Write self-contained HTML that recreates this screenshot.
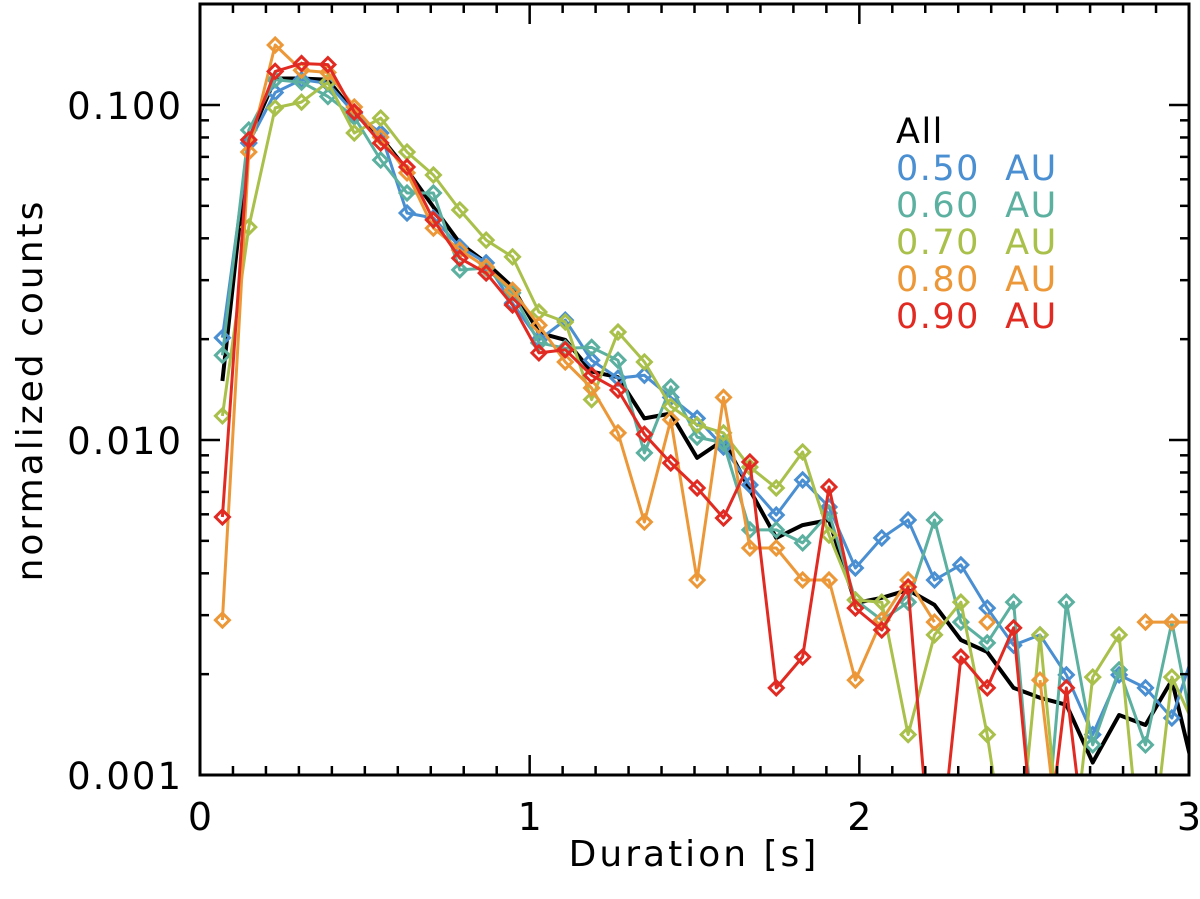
<!DOCTYPE html>
<html><head><meta charset="utf-8"><style>
body{margin:0;background:#fff;}
svg{display:block;font-family:"DejaVu Sans","Liberation Sans",sans-serif;}
</style></head><body>
<svg id="chart" width="1200" height="899" viewBox="0 0 1200 899"></svg>
<script>
const durations=[0.068,0.148,0.228,0.308,0.388,0.468,0.548,0.628,0.708,0.788,0.868,0.948,1.028,1.108,1.188,1.268,1.348,1.428,1.508,1.588,1.668,1.748,1.828,1.908,1.988,2.068,2.148,2.228,2.308,2.388,2.468,2.548,2.628,2.708,2.788,2.868,2.948,3.028];
const allCounts=[0.0150,0.0787,0.120,0.120,0.119,0.0946,0.0802,0.064,0.0496,0.0387,0.0338,0.0286,0.0209,0.0199,0.0160,0.0154,0.0116,0.0120,0.00884,0.0100,0.00709,0.0051,0.00557,0.00577,0.00326,0.00338,0.00357,0.00322,0.00253,0.00233,0.00182,0.00170,0.00162,0.00109,0.00151,0.00141,0.00192,0.00090];
const au050=[0.0202,0.0770,0.109,0.119,0.116,0.0946,0.0825,0.0476,0.0460,0.0377,0.0338,0.0256,0.0199,0.0228,0.0173,0.0153,0.0156,0.0134,0.0116,0.00953,0.00734,0.00597,0.00760,0.00631,0.00415,0.00510,0.00577,0.00382,0.00424,0.00315,0.00244,0.00262,0.00199,0.00132,0.00199,0.00182,0.00148,0.00256];
const au060=[0.0179,0.0842,0.119,0.117,0.106,0.0921,0.0685,0.0546,0.0546,0.0322,0.0326,0.0275,0.0195,0.0188,0.0189,0.0173,0.00915,0.0144,0.0102,0.00980,0.00539,0.00539,0.00493,0.00605,0.00333,0.00290,0.00328,0.00577,0.00286,0.00248,0.00328,0.0004,0.00328,0.00123,0.00206,0.00123,0.00286,0.00113];
const au070=[0.0118,0.0432,0.0980,0.102,0.117,0.0825,0.0914,0.0724,0.0618,0.0486,0.0395,0.0352,0.0241,0.0225,0.0132,0.0210,0.0171,0.0126,0.0111,0.0105,0.00830,0.00719,0.00921,0.00520,0.00333,0.00328,0.00132,0.00262,0.00328,0.00132,0.0004,0.00262,0.0004,0.00196,0.00262,0.0004,0.00196,0.00133];
const au080=[0.00290,0.0724,0.151,0.127,0.125,0.0986,0.0802,0.0627,0.0429,0.0369,0.0328,0.0280,0.0220,0.0171,0.0143,0.0105,0.00569,0.0115,0.00382,0.0134,0.00476,0.00476,0.00382,0.00382,0.00192,0.00290,0.00382,0.00286,null,0.00286,null,0.00192,0.0004,null,null,0.00286,0.00286,0.00286];
const au090=[0.00589,0.0787,0.126,0.133,0.132,0.0953,0.0770,0.0653,0.0454,0.0349,0.0315,0.0253,0.0182,0.0186,0.0156,0.0141,0.0104,0.00854,0.00719,0.00585,0.00860,0.00182,0.00225,0.00724,0.00315,0.00271,0.00364,0.0004,0.00225,0.00182,0.00275,0.0004,0.00182,0.0004,null,null,null,null];
const legendLabels=["All","0.50  AU","0.60  AU","0.70  AU","0.80  AU","0.90  AU"];
const xTicks=[0,1,2,3];
const yTicks=[0.001,0.010,0.100];
const yTickLabels=["0.001","0.010","0.100"];

const L=200,R=1189,T=4,B=775;
const X=v=>L+(v)*(R-L)/3;
const Y=v=>B-335*Math.log10(v/0.001);
const svg=document.getElementById('chart');
const NS='http://www.w3.org/2000/svg';
function mk(tag,attrs,parent){const e=document.createElementNS(NS,tag);for(const k in attrs)e.setAttribute(k,attrs[k]);(parent||svg).appendChild(e);return e;}

const defs=mk('defs',{});
const cp=mk('clipPath',{id:'plotclip'},defs);
mk('rect',{x:L,y:T,width:R-L,height:B-T},cp);

const plot=mk('g',{'clip-path':'url(#plotclip)'});



function drawSeries(vals,color,name,markers,width){
  const g=mk('g',{},plot);
  
  
  let d='';let pen=false;
  vals.forEach((v,i)=>{
    if(v===null||v===undefined){pen=false;return;}
    d+=(pen?'L':'M')+X(durations[i]).toFixed(1)+' '+Y(v).toFixed(1)+' ';pen=true;
  });
  const p=mk('path',{d:d,fill:'none',stroke:color,'stroke-width':width,'stroke-linejoin':'round'},g);
  
  
  if(markers){
    vals.forEach((v,i)=>{
      if(v===null||v===undefined)return;
      const cx=X(durations[i]),cy=Y(v),s=7;
      const m=mk('path',{d:`M${cx-s} ${cy}L${cx} ${cy-s}L${cx+s} ${cy}L${cx} ${cy+s}Z`,fill:'none',stroke:color,'stroke-width':3},g);
      
      
    });
  }
}
drawSeries(allCounts,'#000','series-all',false,4);
drawSeries(au050,'#4a8fd2','series-050au',true,3);
drawSeries(au060,'#5cb0a0','series-060au',true,3);
drawSeries(au070,'#a9c04b','series-070au',true,3);
drawSeries(au080,'#ec9838','series-080au',true,3);
drawSeries(au090,'#e12b22','series-090au',true,3);

const frame=mk('rect',{x:L,y:T,width:R-L,height:B-T,fill:'none',stroke:'#000','stroke-width':3});



const ax=mk('g',{stroke:'#000','stroke-width':2.5});


for(let k=0;k<=30;k++){
  const v=k/10,x=X(v),len=(k%10===0)?20:9;
  mk('line',{x1:x,y1:B,x2:x,y2:B-len},ax);
  mk('line',{x1:x,y1:T,x2:x,y2:T+len},ax);
}
for(let e=-3;e<=-1;e++){
  for(let m=1;m<=9;m++){
    const v=m*Math.pow(10,e);const y=Y(v);
    if(y<T||y>B)continue;
    const len=m===1?20:9;
    mk('line',{x1:L,y1:y,x2:L+len,y2:y},ax);
    mk('line',{x1:R,y1:y,x2:R-len,y2:y},ax);
  }
}
xTicks.forEach(v=>{
  const t=mk('text',{x:X(v),y:830,'text-anchor':'middle','font-size':38,fill:'#000'});
  t.textContent=String(v);
  
  
});
yTicks.forEach((v,i)=>{
  const t=mk('text',{x:183,y:Y(v)+14,'text-anchor':'end','font-size':37,fill:'#000','letter-spacing':2});
  t.textContent=yTickLabels[i];
  
  
});
const xt=mk('text',{x:694,y:866,'text-anchor':'middle','font-size':36,fill:'#000','letter-spacing':3});
xt.textContent='Duration [s]';


const yt=mk('text',{x:0,y:0,'text-anchor':'middle','font-size':36,fill:'#000','letter-spacing':3,transform:'translate(42,390) rotate(-90)'});
yt.textContent='normalized counts';



const colors=['#000','#4a8fd2','#5cb0a0','#a9c04b','#ec9838','#e12b22'];
const lg=mk('g',{});


legendLabels.forEach((s,i)=>{
  const t=mk('text',{x:896,y:143+i*37,'font-size':35,fill:colors[i],'letter-spacing':1.5},lg);
  t.style.whiteSpace='pre';
  t.textContent=s;
  
  
});
</script>
</body></html>
